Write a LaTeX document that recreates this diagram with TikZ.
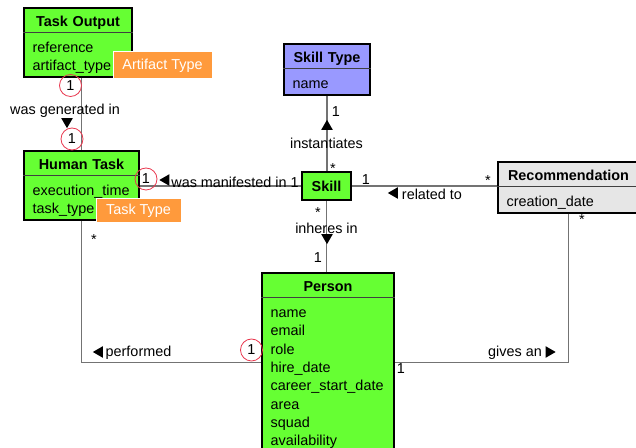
\documentclass[tikz,border=0pt]{standalone}
\usepackage{fontspec}
\setmainfont{Liberation Sans}
\usetikzlibrary{shapes.multipart,shapes.geometric}

\definecolor{clsgreen}{HTML}{66FF33}
\definecolor{clsblue}{HTML}{9999FF}
\definecolor{clsgray}{HTML}{E6E6E6}
\definecolor{tagorange}{HTML}{FF9A3C}
\definecolor{multred}{HTML}{E8384F}

% struts for the class compartments
\newcommand{\hstrut}{\rule[-3.65pt]{0pt}{16.9pt}}
\newcommand{\tstrut}{\rule{0pt}{14.3pt}}
\newcommand{\bstrut}{\rule[-3.8pt]{0pt}{3.8pt}}
\newcommand{\clstitle}[1]{\hbox to\hsize{\hss\hstrut\textbf{#1}\hss}}

\begin{document}
\begin{tikzpicture}[
  x=0.75pt, y=-0.75pt,
  font=\fontsize{10.8}{13.75}\selectfont,
  umlclass/.style={rectangle split, rectangle split parts=2, rectangle split draw splits=false,
                   draw=black, line width=1.5pt, inner xsep=6.5pt, inner ysep=0pt,
                   align=left, anchor=north west},
  split/.style={draw=black!75, line width=0.75pt},
  skillbox/.style={draw=black, line width=1.5pt, fill=clsgreen, inner sep=0pt,
                   minimum width=36.75pt, minimum height=21pt, font=\fontsize{10.8}{13.75}\selectfont\bfseries},
  tag/.style={fill=tagorange, draw=white, line width=0.75pt, text=white, inner sep=0pt},
  assoc/.style={draw=black!55, line width=1pt},
  lbl/.style={inner sep=0pt},
  multc/.style={circle, draw=multred, line width=0.6pt, minimum size=16.5pt, inner sep=0pt},
  dirtri/.style={regular polygon, regular polygon sides=3, fill=black, inner sep=0pt, minimum size=10pt}
]
\useasboundingbox (0,0) rectangle (636,448);
\clip (0,0) rectangle (636,448);

% classes
\node[umlclass, fill=clsgreen, text width=68pt] (taskoutput) at (23,7)
  {\clstitle{Task Output}\nodepart{second}\tstrut reference\\artifact\_type\bstrut};
\node[umlclass, fill=clsgreen, text width=73.25pt] (humantask) at (23,150)
  {\clstitle{Human Task}\nodepart{second}\tstrut execution\_time\\task\_type\bstrut};
\node[umlclass, fill=clsblue, text width=51.5pt] (skilltype) at (283,43)
  {\clstitle{Skill Type}\nodepart{second}\tstrut name\bstrut};
\node[umlclass, fill=clsgray, text width=92.75pt] (recommendation) at (497,161)
  {\clstitle{Recommendation}\nodepart{second}\tstrut creation\_date\bstrut};
\node[umlclass, fill=clsgreen, text width=86pt] (person) at (261,272)
  {\clstitle{Person}\nodepart{second}\tstrut name\\email\\role\\hire\_date\\career\_start\_date\\area\\squad\\availability\bstrut};
\node[skillbox] (skill) at (326.5,186) {Skill};

\foreach \cls in {taskoutput,humantask,skilltype,recommendation,person}
  \draw[split] (\cls.text split west) -- (\cls.text split east);

% associations
\draw[assoc] (humantask.north |- taskoutput.south) -- (humantask.north);
\draw[assoc] (skill.west) -- (skill.west -| humantask.east);
\draw[assoc] (skilltype.south) -- (skilltype.south |- skill.north);
\draw[assoc] (skill.south) -- (skill.south |- person.north);
\draw[assoc] (skill.east) -- (skill.east -| recommendation.west);
\draw[assoc] (recommendation.south) |- (person.east);
\draw[assoc] (humantask.south) |- (person.west);

% enumeration tags
\node[tag, minimum width=74.25pt, minimum height=20.25pt] (artifacttag) at (162.5,65.5) {Artifact Type};
\node[tag, minimum width=63.75pt, minimum height=18pt] (tasktypetag) at (138.5,211) {Task Type};

% multiplicities
\node[multc] (m-out) at (70.5,85.5) {1};
\node[multc] (m-gen) at (72,139) {1};
\node[multc] (m-man) at (146,179) {1};
\node[multc] (m-perf) at (251.5,350) {1};
\node[lbl] (m-type) at (336,112) {1};
\node[lbl] (m-inst) at (333,169) {*};
\node[lbl] (m-rel1) at (366,180) {1};
\node[lbl] (m-rel2) at (488,180.5) {*};
\node[lbl] (m-inh1) at (318,213) {*};
\node[lbl] (m-inh2) at (318,257.5) {1};
\node[lbl] (m-task) at (94,240) {*};
\node[lbl] (m-rec) at (582,220) {*};
\node[lbl] (m-give) at (401,369) {1};

% association names
\node[lbl] (l-gen) at (65,111) {was generated in};
\node[dirtri, shape border rotate=180] (t-gen) at (67,121.5) {};
\node[dirtri, shape border rotate=90] (t-man) at (166,180) {};
\node[lbl] (l-man) at (235,182) {was manifested in 1};
\node[dirtri] (t-inst) at (327,126.5) {};
\node[lbl] (l-inst) at (326.5,143) {instantiates};
\node[dirtri, shape border rotate=90] (t-rel) at (394.5,193) {};
\node[lbl] (l-rel) at (432,194) {related to};
\node[lbl] (l-inh) at (326.5,228) {inheres in};
\node[dirtri, shape border rotate=180] (t-inh) at (327,237.5) {};
\node[dirtri, shape border rotate=90] (t-perf) at (99.5,352) {};
\node[lbl] (l-perf) at (138.5,353) {performed};
\node[lbl] (l-give) at (515,353) {gives an};
\node[dirtri, shape border rotate=-90] (t-give) at (549,352) {};
\end{tikzpicture}
\end{document}
